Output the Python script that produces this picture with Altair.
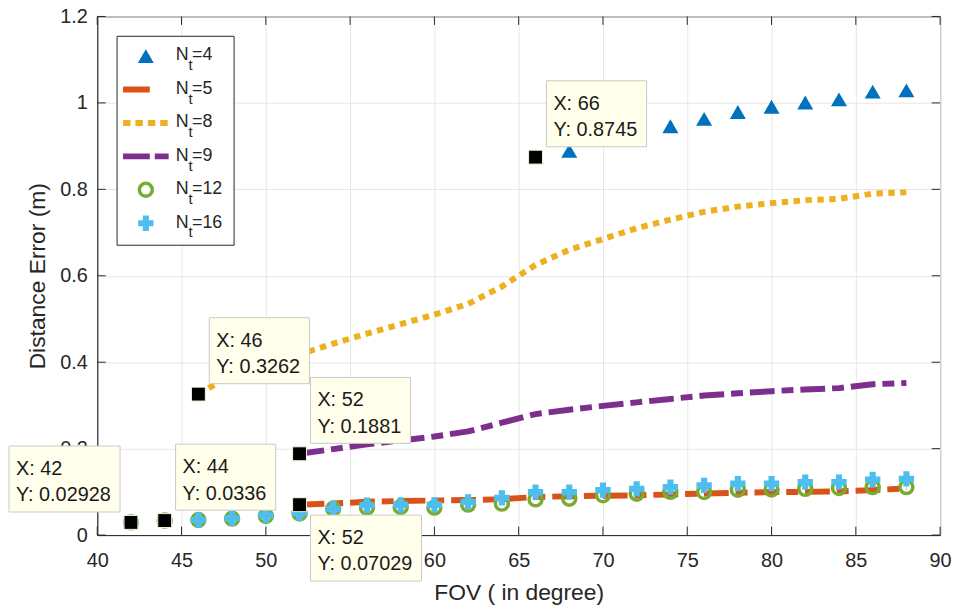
import altair as alt
import pandas as pd

FONT = "Liberation Sans"
INK = "#262626"

# ---------------- data ----------------
x_ticks = [40, 45, 50, 55, 60, 65, 70, 75, 80, 85, 90]
y_ticks = [0, 0.2, 0.4, 0.6, 0.8, 1.0, 1.2]

x_nt4 = [66, 68, 70, 72, 74, 76, 78, 80, 82, 84, 86, 88]
y_nt4 = [0.8745, 0.889, 0.922, 0.936, 0.946, 0.963, 0.979, 0.991, 1.001, 1.008, 1.026, 1.029]

x_nt5 = [52, 54, 56, 58, 60, 62, 64, 66, 68, 70, 72, 74, 76, 78, 80, 82, 84, 86, 88]
y_nt5 = [0.0703, 0.073, 0.077, 0.079, 0.080, 0.081, 0.083, 0.088, 0.090, 0.091,
         0.092, 0.094, 0.096, 0.098, 0.0995, 0.100, 0.101, 0.104, 0.108]

x_nt8 = [46, 48, 50, 52, 54, 56, 58, 60, 62, 64, 66, 68, 70, 72, 74, 76, 78, 80, 82, 84, 86, 88]
y_nt8 = [0.3262, 0.372, 0.397, 0.418, 0.443, 0.466, 0.488, 0.510, 0.535, 0.575, 0.625,
         0.660, 0.685, 0.710, 0.730, 0.748, 0.760, 0.768, 0.775, 0.778, 0.790, 0.793]

x_nt9 = [52, 54, 56, 58, 60, 62, 64, 66, 68, 70, 72, 74, 76, 78, 80, 82, 84, 86, 88]
y_nt9 = [0.1881, 0.199, 0.210, 0.219, 0.228, 0.240, 0.260, 0.280, 0.290, 0.299,
         0.307, 0.315, 0.323, 0.328, 0.333, 0.337, 0.340, 0.349, 0.352]

x_nt12 = [42, 44, 46, 48, 50, 52, 54, 56, 58, 60, 62, 64, 66, 68, 70, 72, 74, 76, 78, 80, 82, 84, 86, 88]
y_nt12 = [0.0293, 0.0336, 0.035, 0.038, 0.044, 0.050, 0.061, 0.0635, 0.065, 0.0635, 0.0705, 0.0727,
          0.0826, 0.084, 0.092, 0.0957, 0.100, 0.0996, 0.105, 0.1056, 0.107, 0.1088, 0.111, 0.111]

x_nt16 = [42, 44, 46, 48, 50, 52, 54, 56, 58, 60, 62, 64, 66, 68, 70, 72, 74, 76, 78, 80, 82, 84, 86, 88]
y_nt16 = [0.0293, 0.0336, 0.035, 0.039, 0.046, 0.051, 0.061, 0.069, 0.070, 0.070, 0.0766, 0.086,
          0.0995, 0.0995, 0.104, 0.107, 0.111, 0.115, 0.119, 0.119, 0.1225, 0.1225, 0.1285, 0.130]

series_names = ["4", "5", "8", "9", "12", "16"]

tip_x = [42, 44, 46, 52, 52, 66]
tip_y = [0.02928, 0.0336, 0.3262, 0.1881, 0.07029, 0.8745]
tip_ytext = ["0.02928", "0.0336", "0.3262", "0.1881", "0.07029", "0.8745"]
tip_side = ["NW", "NE", "NE", "NE", "SE", "NE"]

# ---------------- styles ----------------
BLUE, ORANGE, YELLOW, PURPLE, GREEN, CYAN = "#0072BD", "#D95319", "#EDB120", "#7E2F8E", "#77AC30", "#4DBEEE"
W, H = 850, 523


def frame(xs, ys):
    return pd.DataFrame({"fov": xs, "err": ys})


X = alt.X("fov:Q", scale=alt.Scale(domain=[40, 90], nice=False, zero=False),
          axis=alt.Axis(values=x_ticks, title="FOV ( in degree)", labelPadding=16, titlePadding=11,
                        labelFlush=False, ticks=False, grid=True))
Y = alt.Y("err:Q", scale=alt.Scale(domain=[0, 1.2], nice=False, zero=False),
          axis=alt.Axis(values=y_ticks, format="~g", title="Distance Error (m)", labelPadding=10,
                        titlePadding=10, labelFlush=False, ticks=False, grid=True))

tx = pd.DataFrame({"fov": x_ticks})
ty = pd.DataFrame({"err": y_ticks})
TL = 8.5
tick_layers = [
    alt.Chart(tx).mark_rule(color=INK, strokeWidth=1).encode(x=X, y=alt.value(H), y2=alt.value(H - TL)),
    alt.Chart(tx).mark_rule(color=INK, strokeWidth=1).encode(x=X, y=alt.value(0), y2=alt.value(TL)),
    alt.Chart(ty).mark_rule(color=INK, strokeWidth=1).encode(y=Y, x=alt.value(0), x2=alt.value(TL)),
    alt.Chart(ty).mark_rule(color=INK, strokeWidth=1).encode(y=Y, x=alt.value(W), x2=alt.value(W - TL)),
]

DASH9 = [25, 7, 12, 7]
DASH5 = [25, 7, 12, 7]
DASH8 = [6.5, 5.5]

data_layers = [
    alt.Chart(frame(x_nt4, y_nt4)).mark_point(shape="triangle-up", filled=True, color=BLUE,
                                              size=260, opacity=1).encode(x=X, y=Y),
    alt.Chart(frame(x_nt5, y_nt5)).mark_line(color=ORANGE, strokeWidth=6, strokeDash=DASH5).encode(x=X, y=Y),
    alt.Chart(frame(x_nt8, y_nt8)).mark_line(color=YELLOW, strokeWidth=6, strokeDash=DASH8).encode(x=X, y=Y),
    alt.Chart(frame(x_nt9, y_nt9)).mark_line(color=PURPLE, strokeWidth=6, strokeDash=DASH9).encode(x=X, y=Y),
    alt.Chart(frame(x_nt12, y_nt12)).mark_point(shape="circle", filled=False, color=GREEN, strokeWidth=3.5,
                                                size=170, opacity=1).encode(x=X, y=Y),
    alt.Chart(frame(x_nt16, y_nt16)).mark_point(shape="cross", filled=True, color=CYAN,
                                                size=240, opacity=1).encode(x=X, y=Y),
]

# ---------------- data tips ----------------
tip_layers = []
TIP_H = 66.5
for tx_, ty_, ytxt, side in zip(tip_x, tip_y, tip_ytext, tip_side):
    w = 101 if len(ytxt) <= 6 else 112
    k = TIP_H / w
    path = f"M-1,-{k:.4f}L1,-{k:.4f}L1,{k:.4f}L-1,{k:.4f}Z"
    offx = (11 + w / 2) * (-1 if side.endswith("W") else 1)
    offy = (10.5 + TIP_H / 2) * (1 if side.startswith("S") else -1)
    d = pd.DataFrame({"fov": [tx_], "err": [ty_], "l1": [f"X: {tx_}"], "l2": [f"Y: {ytxt}"]})
    base = alt.Chart(d)
    tip_layers.append(base.mark_point(shape=path, size=w * w, filled=True, fill="#FFFFEB", stroke="#C8C8C8",
                                      strokeWidth=1, opacity=1, fillOpacity=1, xOffset=offx, yOffset=offy)
                      .encode(x=X, y=Y))
    tip_layers.append(base.mark_text(align="left", baseline="alphabetic", font=FONT, fontSize=20, color="#1a1a1a",
                                     dx=offx - w / 2 + 7, dy=offy - 4).encode(x=X, y=Y, text="l1:N"))
    tip_layers.append(base.mark_text(align="left", baseline="alphabetic", font=FONT, fontSize=20, color="#1a1a1a",
                                     dx=offx - w / 2 + 7, dy=offy + 22.6).encode(x=X, y=Y, text="l2:N"))
    tip_layers.append(base.mark_square(size=196, color="black", opacity=1, stroke="#F3F3D8", strokeWidth=1)
                      .encode(x=X, y=Y))

# ---------------- legend ----------------
one = alt.Chart(pd.DataFrame({"k": [0]}))
legend_layers = [
    one.mark_rect(fill="white", stroke=INK, strokeWidth=1).encode(
        x=alt.value(20), x2=alt.value(138), y=alt.value(20), y2=alt.value(230.7))
]
leg_styles = [
    ("point", dict(shape="triangle-up", filled=True, color=BLUE, size=260, opacity=1)),
    ("line", dict(color=ORANGE, strokeWidth=6, x2=53, dash=[1, 0])),
    ("line", dict(color=YELLOW, strokeWidth=6, x2=72, dash=[7.5, 5])),
    ("line", dict(color=PURPLE, strokeWidth=6, x2=72, dash=[27, 5])),
    ("point", dict(shape="circle", filled=False, color=GREEN, strokeWidth=3.5, size=170, opacity=1)),
    ("point", dict(shape="cross", filled=True, color=CYAN, size=240, opacity=1)),
]
for i, (name, (kind, st)) in enumerate(zip(series_names, leg_styles)):
    yc = 40 + 33.7 * i
    if kind == "point":
        legend_layers.append(one.mark_point(**st).encode(x=alt.value(49), y=alt.value(yc)))
    else:
        legend_layers.append(one.mark_rule(color=st["color"], strokeWidth=st["strokeWidth"],
                                           strokeDash=st["dash"]).encode(
            x=alt.value(26), x2=alt.value(st["x2"]), y=alt.value(yc)))
    legend_layers.append(one.mark_text(text="N", align="left", baseline="alphabetic", font=FONT,
                                       fontSize=18, color=INK).encode(x=alt.value(79.2), y=alt.value(yc + 4.4)))
    legend_layers.append(one.mark_text(text="t", align="left", baseline="alphabetic", font=FONT,
                                       fontSize=15, color=INK).encode(x=alt.value(92), y=alt.value(yc + 14.4)))
    legend_layers.append(one.mark_text(text="=" + name, align="left", baseline="alphabetic", font=FONT,
                                       fontSize=18, color=INK).encode(x=alt.value(95.6), y=alt.value(yc + 4.4)))

chart = alt.layer(*tick_layers, *data_layers, *tip_layers, *legend_layers).properties(
    width=W, height=H, padding={"left": 90, "top": 6, "right": 15, "bottom": 70}, autosize="none",
    background="white",
).configure_axis(
    gridColor="#E6E6E6", domainColor=INK, labelFont=FONT, titleFont=FONT, labelFontSize=20,
    titleFontSize=23, labelColor=INK, titleColor=INK, titleFontWeight="normal",
).configure_view(stroke=INK, strokeWidth=1)

chart.save("out.html", embed_options={"renderer": "svg", "actions": False})
